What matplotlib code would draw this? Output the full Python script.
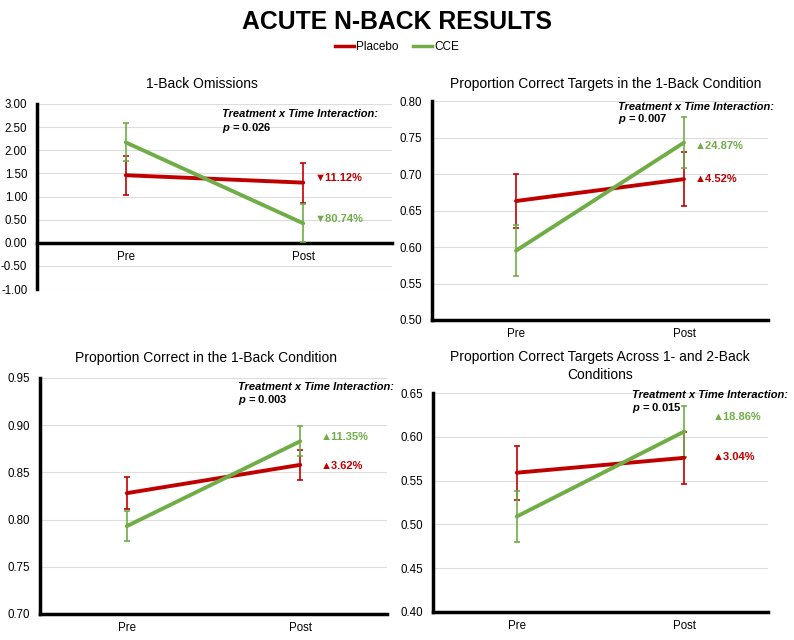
import matplotlib
matplotlib.use("Agg")
import matplotlib.pyplot as plt
from matplotlib.lines import Line2D
import numpy as np

plt.rcParams['font.family'] = ['Liberation Sans', 'DejaVu Sans']
plt.rcParams['mathtext.fontset'] = 'custom'
plt.rcParams['mathtext.it'] = 'Liberation Sans:italic:bold'
plt.rcParams['mathtext.bf'] = 'Liberation Sans:bold'

times = ["Pre", "Post"]
series_names = ["Placebo", "CCE"]

# Panel 1: 1-Back Omissions
p1_placebo = [1.46, 1.30]
p1_placebo_err = [0.42, 0.43]
p1_cce = [2.17, 0.42]
p1_cce_err = [0.41, 0.41]
p1_pval = "0.026"
p1_changes = ["\u25bc11.12%", "\u25bc80.74%"]

# Panel 2: Proportion Correct Targets in the 1-Back Condition
p2_placebo = [0.663, 0.693]
p2_placebo_err = [0.037, 0.037]
p2_cce = [0.595, 0.743]
p2_cce_err = [0.035, 0.035]
p2_pval = "0.007"
p2_changes = ["\u25b24.52%", "\u25b224.87%"]

# Panel 3: Proportion Correct in the 1-Back Condition
p3_placebo = [0.828, 0.858]
p3_placebo_err = [0.017, 0.016]
p3_cce = [0.793, 0.883]
p3_cce_err = [0.016, 0.016]
p3_pval = "0.003"
p3_changes = ["\u25b23.62%", "\u25b211.35%"]

# Panel 4: Proportion Correct Targets Across 1- and 2-Back Conditions
p4_placebo = [0.559, 0.576]
p4_placebo_err = [0.031, 0.030]
p4_cce = [0.509, 0.606]
p4_cce_err = [0.029, 0.029]
p4_pval = "0.015"
p4_changes = ["\u25b23.04%", "\u25b218.86%"]

RED = "#C00000"
GREEN = "#70AD47"

W, H = 794, 640
fig = plt.figure(figsize=(W / 100, H / 100), dpi=100)

def rect(l, r, top, bot):
    return [l / W, (H - bot) / H, (r - l) / W, (bot - top) / H]

panels = [
    dict(rect=rect(37, 392, 104, 289), title="1-Back Omissions", title_xy=(202, 84),
         ylim=(-1.0, 3.0), ystep=0.5, pl=p1_placebo, ple=p1_placebo_err, cc=p1_cce, cce=p1_cce_err,
         pval=p1_pval, ch=p1_changes, zero_axis=True,
         ann=(0.52, 0.946, 0.87), chx=1.066, chy=(1.40, 0.52)),
    dict(rect=rect(432, 768, 101, 320), title="Proportion Correct Targets in the 1-Back Condition", title_xy=(606, 84),
         ylim=(0.5, 0.8), ystep=0.05, pl=p2_placebo, ple=p2_placebo_err, cc=p2_cce, cce=p2_cce_err,
         pval=p2_pval, ch=p2_changes, zero_axis=False,
         ann=(0.554, 0.973, 0.918), chx=1.066, chy=(0.693, 0.738)),
    dict(rect=rect(40, 387, 378, 614), title="Proportion Correct in the 1-Back Condition", title_xy=(206, 358),
         ylim=(0.7, 0.95), ystep=0.05, pl=p3_placebo, ple=p3_placebo_err, cc=p3_cce, cce=p3_cce_err,
         pval=p3_pval, ch=p3_changes, zero_axis=False,
         ann=(0.571, 0.962, 0.907), chx=1.12, chy=(0.857, 0.8875)),
    dict(rect=rect(433, 768, 393, 612), title="Proportion Correct Targets Across 1- and 2-Back\nConditions", title_xy=(600, 366),
         ylim=(0.4, 0.65), ystep=0.05, pl=p4_placebo, ple=p4_placebo_err, cc=p4_cce, cce=p4_cce_err,
         pval=p4_pval, ch=p4_changes, zero_axis=False,
         ann=(0.594, 0.991, 0.932), chx=1.17, chy=(0.577, 0.623)),
]

x = np.arange(len(times))

for p in panels:
    ax = fig.add_axes(p["rect"])
    for s in ["top", "right"]:
        ax.spines[s].set_visible(False)
    ax.spines["left"].set_linewidth(2.5)
    ax.spines["bottom"].set_linewidth(2.5)
    if p["zero_axis"]:
        ax.spines["bottom"].set_position(("data", 0))
    lo, hi = p["ylim"]
    ticks = np.round(np.arange(lo, hi + p["ystep"] / 2, p["ystep"]), 2)
    ax.set_ylim(lo, hi)
    ax.set_xlim(-0.5, 1.5)
    ax.set_yticks(ticks)
    ax.set_yticklabels([f"{t:.2f}" for t in ticks], fontsize=8.3)
    ax.set_xticks(x)
    ax.set_xticklabels(times, fontsize=8.3)
    ax.yaxis.grid(True, color="#DDDDDD", lw=0.8)
    ax.set_axisbelow(True)
    ax.tick_params(axis="x", length=0, pad=6)
    ax.tick_params(axis="y", length=0, pad=7)

    for vals, errs, col in [(p["pl"], p["ple"], RED), (p["cc"], p["cce"], GREEN)]:
        ax.errorbar(x, vals, yerr=errs, color=col, lw=0, elinewidth=1.2, capsize=2, capthick=1.2, zorder=3)
        ax.plot(x, vals, color=col, lw=2.8, zorder=4, solid_capstyle="round")

    ax.text(p["ann"][0], p["ann"][1], "Treatment x Time Interaction:", transform=ax.transAxes,
            fontsize=8, fontweight="bold", fontstyle="italic", va="center", ha="left")
    ax.text(p["ann"][0], p["ann"][2], r"$\mathit{p}$ = " + p["pval"], transform=ax.transAxes,
            fontsize=8, fontweight="bold", va="center", ha="left")
    ax.text(p["chx"], p["chy"][0], p["ch"][0], color=RED, fontsize=8, fontweight="bold", va="center", ha="left")
    ax.text(p["chx"], p["chy"][1], p["ch"][1], color=GREEN, fontsize=8, fontweight="bold", va="center", ha="left")

    tx, ty = p["title_xy"]
    fig.text(tx / W, 1 - ty / H, p["title"], ha="center", va="center", fontsize=10, linespacing=1.3)

fig.text(0.5, 1 - 22 / H, "ACUTE N-BACK RESULTS", ha="center", va="center", fontsize=17.8, fontweight="bold")
handles = [Line2D([], [], color=RED, lw=2.5), Line2D([], [], color=GREEN, lw=2.5)]
fig.legend(handles, series_names, loc="center", bbox_to_anchor=(0.5, 1 - 47 / H), ncol=2, frameon=False,
           fontsize=8.5, handlelength=1.6, handletextpad=0.2, columnspacing=1.2)

fig.savefig("out.png", dpi=100)
